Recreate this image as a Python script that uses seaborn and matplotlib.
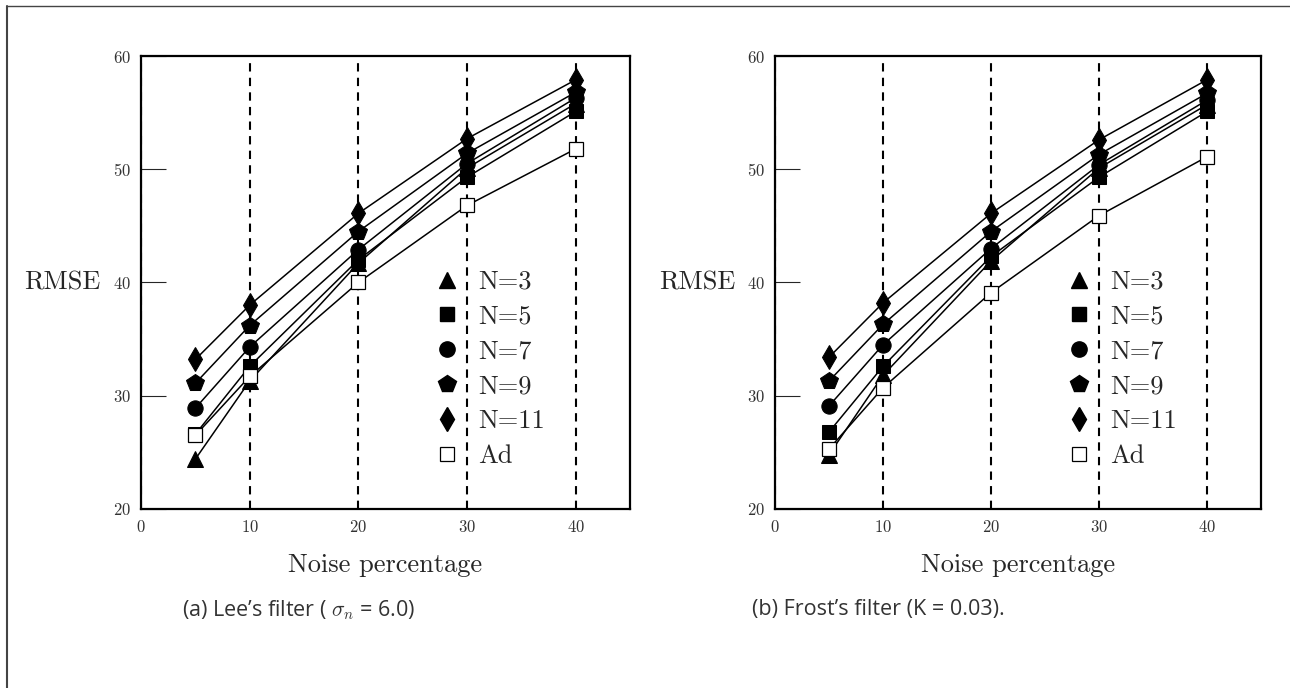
"""
RMSE vs noise percentage for Lee's and Frost's filters (window N vs adaptive)
"""

import matplotlib
matplotlib.use('Agg')
import matplotlib.pyplot as plt
from matplotlib.lines import Line2D
import seaborn as sns
import pandas as pd

# data
noise = [5, 10, 20, 30, 40]
series_names = ['N=3', 'N=5', 'N=7', 'N=9', 'N=11', 'Ad']

lee_rmse = {
    'N=3': [24.4, 31.3, 41.7, 50.1, 55.8],
    'N=5': [26.6, 32.6, 42.0, 49.3, 55.1],
    'N=7': [28.9, 34.3, 42.9, 50.5, 56.3],
    'N=9': [31.1, 36.2, 44.5, 51.4, 56.8],
    'N=11': [33.2, 38.0, 46.1, 52.7, 57.9],
    'Ad': [26.5, 31.7, 40.0, 46.8, 51.8],
}
frost_rmse = {
    'N=3': [24.8, 31.8, 41.9, 50.1, 55.7],
    'N=5': [26.8, 32.6, 42.3, 49.3, 55.1],
    'N=7': [29.1, 34.5, 43.0, 50.4, 56.1],
    'N=9': [31.3, 36.3, 44.5, 51.3, 56.7],
    'N=11': [33.4, 38.2, 46.1, 52.6, 57.9],
    'Ad': [25.3, 30.7, 39.1, 45.9, 51.1],
}

captions = ['(a) Lee\u2019s filter ( $\\sigma_n$ = 6.0)',
            '(b) Frost\u2019s filter (K = 0.03).']

# marker styles per series
styles = {
    'N=3': dict(marker='^', markersize=12, mfc='black'),
    'N=5': dict(marker='s', markersize=10, mfc='black'),
    'N=7': dict(marker='o', markersize=11, mfc='black'),
    'N=9': dict(marker='p', markersize=13, mfc='black'),
    'N=11': dict(marker='d', markersize=12.5, mfc='black'),
    'Ad': dict(marker='s', markersize=10.5, mfc='white', mew=0.9),
}

sns.set_style('white')
plt.rcParams['font.family'] = ['cmr10', 'DejaVu Serif']
plt.rcParams['axes.formatter.use_mathtext'] = True
plt.rcParams['mathtext.fontset'] = 'cm'


def to_long(table):
    rows = []
    for name in series_names:
        for x, v in zip(noise, table[name]):
            rows.append({'noise': x, 'rmse': v, 'series': name})
    return pd.DataFrame(rows)


def draw_panel(ax, table):
    df = to_long(table)
    for name in series_names:
        sub = df[df['series'] == name]
        sns.lineplot(data=sub, x='noise', y='rmse', ax=ax, color='black',
                     linewidth=1.1, mec='black', zorder=3, legend=False,
                     **styles[name])

    ax.set_xlim(0, 45)
    ax.set_ylim(20, 60)
    ax.set_xticks([0, 10, 20, 30, 40])
    ax.set_yticks([20, 30, 40, 50, 60])
    ax.xaxis.grid(True, linestyle=(0, (4, 3)), color='black', linewidth=1.5)
    ax.yaxis.grid(False)
    ax.tick_params(axis='x', length=0, pad=7, labelsize=12, labelcolor='#333333')
    ax.tick_params(axis='y', direction='in', length=18, width=0.8,
                   pad=7, labelsize=12, labelcolor='#333333', left=True)
    for sp in ax.spines.values():
        sp.set_color('black')
        sp.set_linewidth(1.6)

    ax.set_xlabel('Noise percentage', fontsize=19)
    ax.xaxis.set_label_coords(0.5, -0.125)
    ax.xaxis.label.set_va('center')
    ax.set_ylabel('RMSE', fontsize=19, rotation=0, ha='center', va='center')
    ax.yaxis.set_label_coords(-0.16, 0.5)

    handles = [Line2D([], [], linestyle='none', color='black', mec='black',
                      **styles[name]) for name in series_names]
    ax.legend(handles, series_names, frameon=False, fontsize=19,
              loc='upper left', bbox_to_anchor=(26.9, 41.1),
              bbox_transform=ax.transData, borderaxespad=0, borderpad=0,
              handlelength=1.0, handletextpad=0.7, labelspacing=0.42)


fig = plt.figure(figsize=(12.9, 6.88), dpi=100)
ax_a = fig.add_axes([0.1093, 0.2602, 0.3791, 0.6584])
ax_b = fig.add_axes([0.6008, 0.2602, 0.3767, 0.6584])

draw_panel(ax_a, lee_rmse)
draw_panel(ax_b, frost_rmse)

fig.text(182 / 1290, 1 - 610 / 688, captions[0], fontsize=15.5,
         family=['Open Sans', 'DejaVu Sans'], color='#333333', va='center')
fig.text(752 / 1290, 1 - 610 / 688, captions[1], fontsize=15.5,
         family=['Open Sans', 'DejaVu Sans'], color='#333333', va='center')

# page frame (left and top edges only)
fig.add_artist(Line2D([7 / 1290, 7 / 1290], [0, 1 - 6 / 688],
                      transform=fig.transFigure, color='#444444', lw=1.5))
fig.add_artist(Line2D([7 / 1290, 1], [1 - 6 / 688, 1 - 6 / 688],
                      transform=fig.transFigure, color='#444444', lw=1.0))

fig.savefig('out.png', dpi=100)
